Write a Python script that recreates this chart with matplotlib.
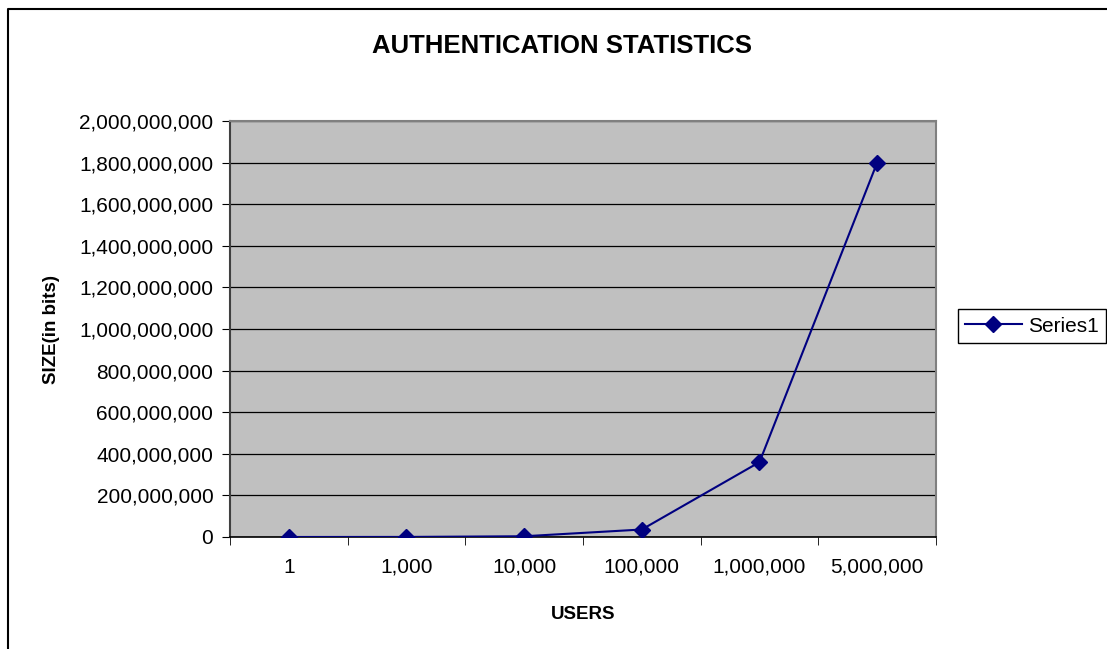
import matplotlib.pyplot as plt
from matplotlib.lines import Line2D
from matplotlib.ticker import FuncFormatter, FixedLocator

plt.rcParams['font.family'] = ['Liberation Sans', 'DejaVu Sans']

users = ['1', '1,000', '10,000', '100,000', '1,000,000', '5,000,000']
size_bits = [360, 360000, 3600000, 36000000, 360000000, 1800000000]

fig = plt.figure(figsize=(11.07, 6.49), dpi=100)
ax = fig.add_axes([230/1107, 112/649, 706/1107, 416/649])

x = list(range(len(users)))
ax.plot(x, size_bits, color='#000080', marker='D', markersize=8, linewidth=1.5,
        label='Series1', zorder=3)

ax.set_facecolor('#C0C0C0')
ax.set_xlim(-0.5, len(users) - 0.5)
ax.set_ylim(0, 2000000000)
ax.set_yticks(range(0, 2000000001, 200000000))
ax.yaxis.set_major_formatter(FuncFormatter(lambda v, p: '{:,.0f}'.format(v)))
ax.grid(axis='y', color='black', linewidth=0.9)
ax.set_axisbelow(True)

ax.set_xticks(x)
ax.set_xticklabels(users)
ax.xaxis.set_minor_locator(FixedLocator([i - 0.5 for i in range(len(users) + 1)]))
ax.tick_params(axis='x', which='major', length=0, pad=15, labelsize=15)
ax.tick_params(axis='x', which='minor', length=6, color='black')
ax.tick_params(axis='y', length=6, color='black', labelsize=15, pad=6)

for s in ['top', 'right']:
    ax.spines[s].set_color('#808080')
    ax.spines[s].set_linewidth(1.5)
ax.spines['left'].set_color('#404040')
ax.spines['bottom'].set_color('black')
ax.spines['left'].set_linewidth(1.5)
ax.spines['bottom'].set_linewidth(1.2)

ax.set_xlabel('USERS', fontsize=13.5, fontweight='bold', labelpad=21)
ax.set_ylabel('SIZE(in bits)', fontsize=13.5, fontweight='bold', labelpad=14)
fig.text(562/1107, 1 - 46/649, 'AUTHENTICATION STATISTICS', ha='center', va='center',
         fontsize=18.5, fontweight='bold')

leg = ax.legend(loc='center left', bbox_to_anchor=(958/1107, 1 - 326/649),
                bbox_transform=fig.transFigure, fancybox=False, edgecolor='black',
                fontsize=15, handlelength=2.7, handletextpad=0.3, borderpad=0.35,
                borderaxespad=0, framealpha=1)
leg.get_frame().set_linewidth(1.0)

# chart area border
fig.add_artist(Line2D([8/1107, 8/1107, 1.0], [0, 1 - 9/649, 1 - 9/649],
                      transform=fig.transFigure, color='black', linewidth=1.5))

fig.savefig('out.png', dpi=100, facecolor='white')
